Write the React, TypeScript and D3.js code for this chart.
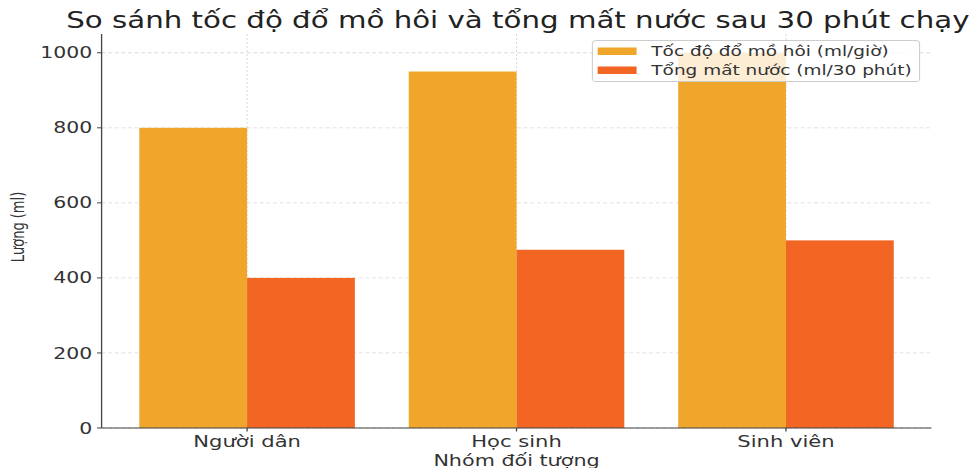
import React from "react";
import * as d3 from "d3";

const categories = ["Người dân", "Học sinh", "Sinh viên"];
const sweatRate = [800, 950, 1000];
const totalLoss = [400, 475, 500];
const seriesNames = ["Tốc độ đổ mồ hôi (ml/giờ)", "Tổng mất nước (ml/30 phút)"];
const yTicks = [0, 200, 400, 600, 800, 1000];
const title = "So sánh tốc độ đổ mồ hôi và tổng mất nước sau 30 phút chạy";
const xLabel = "Nhóm đối tượng";
const yLabel = "Lượng (ml)";

const COLORS = ["#F0A62A", "#F26522"];
const W = 739;
const H = 468;
const FONT = "'DejaVu Sans', sans-serif";

export default function App() {
  const x = d3.scaleLinear().domain([-0.54, 2.54]).range([77, 706]);
  const y = d3.scaleLinear().domain([0, 1050]).range([428, 34]);
  const barW = x(0.4) - x(0);
  const series = [sweatRate, totalLoss];
  const offsets = [-0.2, 0.2];

  return (
    <svg
      width={975}
      height={468}
      viewBox={`0 0 ${W} ${H}`}
      preserveAspectRatio="none"
      style={{ position: "fixed", left: 0, top: 0, background: "#fff" }}
      fontFamily={FONT}
    >
      <rect x={0} y={0} width={W} height={H} fill="#fff" />
      {/* grid */}
      {yTicks.map((t) => (
        <line key={"gy" + t} x1={x(-0.54)} x2={x(2.54)} y1={y(t)} y2={y(t)}
          stroke="#dadada" strokeWidth={0.8} strokeDasharray="3,2" />
      ))}
      {categories.map((c, i) => (
        <line key={"gx" + c} x1={x(i)} x2={x(i)} y1={y(1050)} y2={y(0)}
          stroke="#dadada" strokeWidth={0.8} strokeDasharray="2,2" />
      ))}
      {/* bars */}
      {series.map((vals, s) =>
        vals.map((v, i) => (
          <rect key={`b${s}-${i}`} x={x(i + offsets[s]) - barW / 2} y={y(v)}
            width={barW} height={y(0) - y(v)} fill={COLORS[s]} />
        ))
      )}
      {/* axes */}
      <line x1={x(-0.54)} x2={x(-0.54)} y1={y(1050)} y2={y(0)} stroke="#444" strokeWidth={1} />
      <line x1={x(-0.54)} x2={x(2.54)} y1={y(0)} y2={y(0)} stroke="#444" strokeWidth={1} />
      {yTicks.map((t) => (
        <g key={"ty" + t}>
          <line x1={x(-0.54) - 3.5} x2={x(-0.54)} y1={y(t)} y2={y(t)} stroke="#444" strokeWidth={1} />
          <text x={x(-0.54) - 7} y={y(t)} dy="0.36em" textAnchor="end" fontSize={15.5} fill="#333">{t}</text>
        </g>
      ))}
      {categories.map((c, i) => (
        <g key={"tx" + c}>
          <line x1={x(i)} x2={x(i)} y1={y(0)} y2={y(0) + 3.5} stroke="#444" strokeWidth={1} />
          <text x={x(i)} y={447} textAnchor="middle" fontSize={16} fill="#333">{c}</text>
        </g>
      ))}
      <text x={(x(-0.54) + x(2.54)) / 2} y={466} textAnchor="middle" fontSize={15.7} fill="#333">{xLabel}</text>
      <text transform={`translate(14,227) rotate(-90)`} textAnchor="middle" dy="0.35em" fontSize={13} fill="#333">{yLabel}</text>
      <text x={(x(-0.54) + x(2.54)) / 2 + 1} y={28.3} textAnchor="middle" fontSize={22.2} fill="#222">{title}</text>
      {/* legend */}
      <g>
        <rect x={449} y={40.5} width={248} height={41} rx={3} fill="#fff" fillOpacity={0.8} stroke="#ccc" strokeWidth={0.8} />
        {seriesNames.map((n, s) => (
          <g key={"lg" + s}>
            <rect x={453} y={47.5 + s * 19} width={29.5} height={7.5} fill={COLORS[s]} />
            <text x={493.7} y={51.2 + s * 19} dy="0.36em" fontSize={14} fill="#333">{n}</text>
          </g>
        ))}
      </g>
    </svg>
  );
}
